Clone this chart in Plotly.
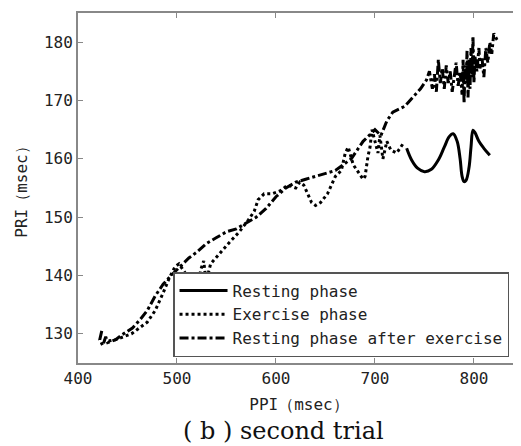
import plotly.graph_objects as go

# Resting phase (solid)
rest_ppi = [732, 737, 743, 750, 757, 764, 770, 775, 779, 783, 786, 788, 790, 792, 795, 797, 799, 801, 805, 810, 816]
rest_pri = [161.8, 159.8, 158.4, 157.8, 158.2, 159.8, 162, 163.8, 164.3, 163, 160, 157, 156.1, 156.3, 158.5, 162, 164.9, 164.5, 163, 161.8, 160.6]

# Exercise phase (dotted)
ex_ppi = [728, 722, 716, 712, 708, 705, 703, 700, 697, 695, 693, 690, 688, 684, 678, 673, 670, 666, 660, 652,
          645, 640, 636, 632, 628, 624, 620, 612, 604, 596, 588, 582, 578, 572, 563, 552, 542, 534, 531, 533,
          530, 527, 524, 520, 516, 513, 510, 506, 502, 498, 492, 486, 478, 470, 462, 454, 446, 438, 432, 428, 426]
ex_pri = [162.5, 161, 161.5, 163, 160, 164, 161, 163, 165, 162, 160.5, 157, 156.5, 157.5, 159, 162, 161, 158, 157, 154,
          152.5, 152, 152.5, 154, 155.5, 156, 155, 155.5, 154.5, 154, 154, 153, 151, 149.5, 147.5, 145.5, 143.5, 142, 140, 136,
          138, 142.5, 141, 137, 135, 137, 140, 141, 142, 141.5, 139.5, 137, 134, 132, 131, 130, 129.5, 129, 128.8, 129, 129]

# Resting phase after exercise (dash-dot)
rec_ppi = [424, 422, 425, 428, 430, 438, 446, 455, 463, 470, 478, 486, 494, 500, 506, 512, 520, 530, 540, 550,
           560, 570, 580, 590, 600, 610, 620, 630, 640, 650, 660, 668, 676, 682, 688, 694, 700, 706, 712, 718,
           724, 730, 738, 746, 752, 755, 758, 760, 762, 764, 766, 768, 770, 772, 774, 776, 778, 780, 782, 784,
           786, 788, 789, 790, 791, 792, 793, 794, 795, 796, 797, 798, 799, 800, 801, 803, 805, 806, 808, 810,
           812, 814, 816, 818, 820, 823, 825]
rec_pri = [130.5, 129, 128, 129.5, 128.5, 129, 130, 131, 132.5, 134, 136.5, 138.5, 140, 141, 142, 143, 144, 145.5, 146.5, 147.5,
           148, 149, 150, 151.5, 153.5, 155, 156, 156.5, 157, 157.5, 158, 159, 160, 161.5, 163, 164, 165, 164, 166.5, 168,
           168.5, 169, 170.5, 172, 173.5, 175, 172, 174.5, 171.5, 177, 173, 175.5, 172, 176, 173, 175, 171.5, 174, 176.5, 172.5,
           175, 171, 177, 169.5, 176, 173, 178.5, 170.5, 177, 172, 179, 174, 181, 173, 177.5, 175, 179, 175.5, 177.5, 174,
           179, 176.5, 180, 178, 181.5, 180.5, 180]

x_ticks = [400, 500, 600, 700, 800]
y_ticks = [130, 140, 150, 160, 170, 180]

fig = go.Figure()
fig.add_trace(go.Scatter(x=rest_ppi, y=rest_pri, mode="lines", name="Resting phase",
                         line=dict(color="black", width=3, shape="spline")))
fig.add_trace(go.Scatter(x=ex_ppi, y=ex_pri, mode="lines", name="Exercise phase",
                         line=dict(color="black", width=3, dash="dot")))
fig.add_trace(go.Scatter(x=rec_ppi, y=rec_pri, mode="lines", name="Resting phase after exercise",
                         line=dict(color="black", width=3, dash="dashdot")))

tickfont = dict(family="DejaVu Sans Mono", size=16, color="#222")
axis_common = dict(showgrid=False, zeroline=False, showline=True, linecolor="#888", linewidth=2,
                   mirror="ticks", ticks="inside", ticklen=5, tickcolor="#888", tickfont=tickfont,
                   automargin=False)

fig.update_xaxes(range=[400, 846.5], tickvals=x_ticks, ticklabelstandoff=0,
                 title=dict(text="PPI（msec）", font=tickfont, standoff=12), **axis_common)
fig.update_yaxes(range=[125, 185], tickvals=y_ticks,
                 title=dict(text="PRI（msec）", font=tickfont, standoff=12), **axis_common)

fig.add_annotation(text="( b ) second trial", xref="paper", yref="paper", x=0.464, y=-0.194,
                   showarrow=False, xanchor="center", yanchor="middle",
                   font=dict(family="DejaVu Serif, Liberation Serif", size=24, color="#111"))

# page body adds an 8px offset, so the figure is 8px smaller than the window
fig.update_layout(
    width=513, height=438,
    margin=dict(l=70, r=1, t=5, b=83),
    plot_bgcolor="white", paper_bgcolor="white",
    legend=dict(x=0.215, y=0.017, xanchor="left", yanchor="bottom", bgcolor="white",
                bordercolor="#555", borderwidth=1.5, tracegroupgap=0, itemwidth=48,
                font=dict(family="DejaVu Sans Mono", size=16, color="#222")),
)

fig.write_html("out.html")
